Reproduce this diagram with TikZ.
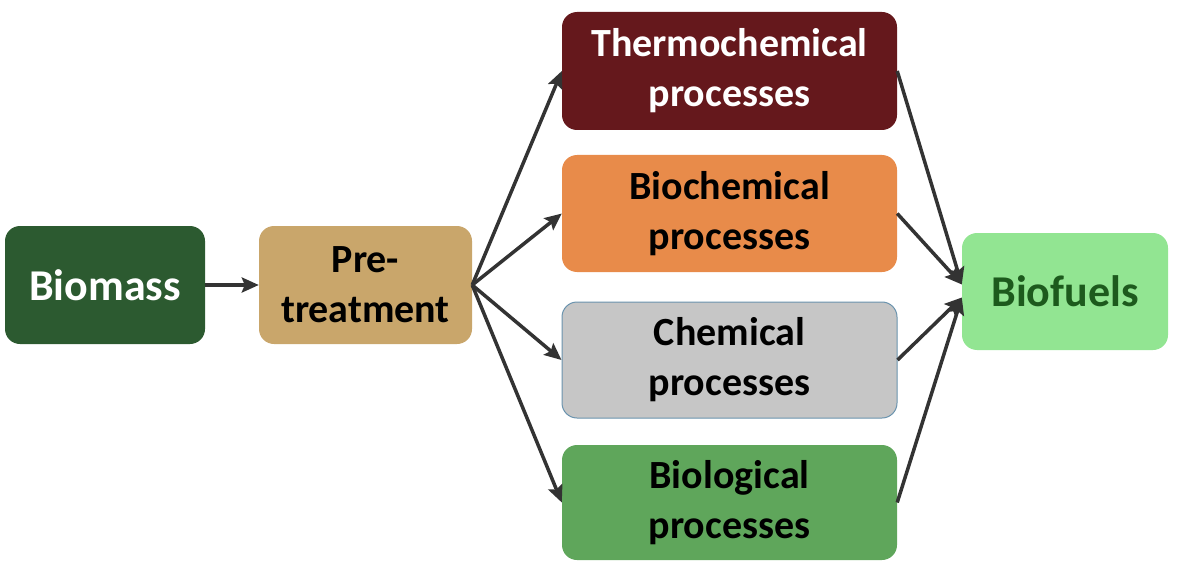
\documentclass[tikz,border=0pt]{standalone}
\usepackage{fontspec}
\setmainfont{Carlito}
\usetikzlibrary{arrows.meta}
\definecolor{biomassC}{HTML}{2C5A30}
\definecolor{pretreatC}{HTML}{C9A66B}
\definecolor{thermoC}{HTML}{65181C}
\definecolor{biochemC}{HTML}{E88B4A}
\definecolor{chemC}{HTML}{C6C6C6}
\definecolor{chemB}{HTML}{6A93AE}
\definecolor{biologC}{HTML}{5FA65B}
\definecolor{biofuelC}{HTML}{92E592}
\definecolor{biofuelT}{HTML}{1D5A1D}
\definecolor{arrowC}{HTML}{333333}
\tikzset{
  procbox/.style={rounded corners=15pt, align=center, font=\bfseries\fontsize{40}{50}\selectfont, inner sep=0pt},
  link/.style={draw=arrowC, line width=3.5pt, -{Stealth[length=17pt,width=15pt,inset=3pt]}},
}
\begin{document}
\begin{tikzpicture}[x=1pt,y=-1pt]
\useasboundingbox (0,0) rectangle (1182,572);
\node[procbox, fill=biomassC, text=white, minimum width=200pt, minimum height=118pt, font=\bfseries\fontsize{44}{50}\selectfont] (bio) at (105,285) {Biomass};
\node[procbox, fill=pretreatC, text=black, minimum width=213pt, minimum height=118pt] (pre) at (365.5,285) {Pre-\\treatment};
\node[procbox, fill=thermoC, text=white, minimum width=335pt, minimum height=118pt] (th) at (729.5,71) {Thermochemical\\processes};
\node[procbox, fill=biochemC, text=black, minimum width=335pt, minimum height=117pt] (bc) at (729.5,213.5) {Biochemical\\processes};
\node[procbox, fill=chemC, draw=chemB, line width=1pt, text=black, minimum width=335pt, minimum height=116pt] (ch) at (729.5,360) {Chemical\\processes};
\node[procbox, fill=biologC, text=black, minimum width=335pt, minimum height=115pt] (bl) at (729.5,502.5) {Biological\\processes};
\node[procbox, fill=biofuelC, text=biofuelT, minimum width=206pt, minimum height=117pt, font=\bfseries\fontsize{44}{50}\selectfont] (bf) at (1065,291.5) {Biofuels};
\coordinate (bfup) at ([yshift=7pt]bf.west);
\coordinate (bfdn) at ([yshift=-6pt]bf.west);
\draw[link] (bio.east) -- (pre.west);
\draw[link] (pre.east) -- (th.west);
\draw[link] (pre.east) -- (bc.west);
\draw[link] (pre.east) -- (ch.west);
\draw[link] (pre.east) -- (bl.west);
\draw[link] (th.east) -- (bfup);
\draw[link] (bc.east) -- (bfup);
\draw[link] (ch.east) -- (bfdn);
\draw[link] (bl.east) -- (bfdn);
\end{tikzpicture}
\end{document}
